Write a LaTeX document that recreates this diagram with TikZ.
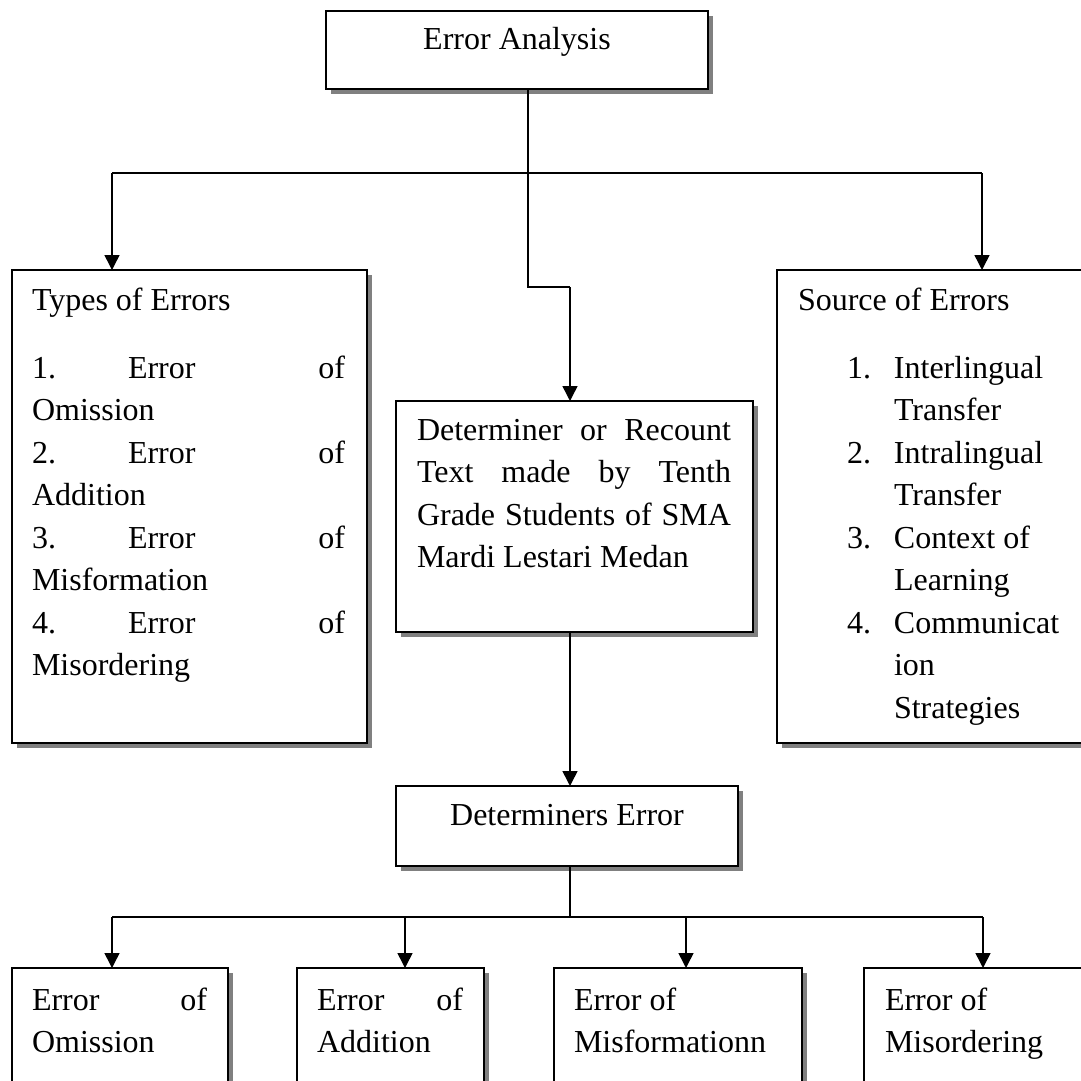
\documentclass[tikz,border=0pt]{standalone}
\usepackage{fontspec}
\setmainfont{Liberation Serif}
\usetikzlibrary{arrows.meta,shadows}
\newcommand\fst{\rule{0pt}{30pt}}
\begin{document}
\begin{tikzpicture}[x=1pt,y=-1pt,
  box/.style={draw, line width=1.6pt, fill=white, inner sep=0pt, outer sep=0pt, anchor=north west,
    drop shadow={shadow xshift=5pt, shadow yshift=-5pt, fill=gray, opacity=1}},
  txt/.style={anchor=north west, inner sep=0pt, outer sep=0pt, align=left, font=\fontsize{32}{42.5}\selectfont},
  ctxt/.style={anchor=base, inner sep=0pt, font=\fontsize{32}{42.5}\selectfont},
  conn/.style={line width=1.5pt},
  arr/.style={line width=1.5pt, -{Triangle[width=15pt,length=15pt]}}]
\useasboundingbox (0,0) rectangle (1081,1081);
\fill[white] (0,0) rectangle (1081,1081);
\clip (0,0) rectangle (1081,1081);

% boxes
\node[box, minimum width=382pt, minimum height=78pt] (ea) at (326,11) {};
\node[box, minimum width=355pt, minimum height=473pt] (types) at (12,270) {};
\node[box, minimum width=330pt, minimum height=473pt] (source) at (777,270) {};
\node[box, minimum width=357pt, minimum height=231pt] (det) at (396,401) {};
\node[box, minimum width=342pt, minimum height=80pt] (de) at (396,786) {};
\node[box, minimum width=216pt, minimum height=150pt] (b1) at (12,968) {};
\node[box, minimum width=187pt, minimum height=150pt] (b2) at (297,968) {};
\node[box, minimum width=248pt, minimum height=150pt] (b3) at (554,968) {};
\node[box, minimum width=260pt, minimum height=150pt] (b4) at (864,968) {};

% texts
\node[ctxt] (eat) at (517,50) {Error Analysis};
\node[txt] (typest) at (32,280) {\fst Types of Errors\\[25.5pt]
\makebox[313pt][l]{\makebox[96pt][l]{1.}Error\hfill of}\\
Omission\\
\makebox[313pt][l]{\makebox[96pt][l]{2.}Error\hfill of}\\
Addition\\
\makebox[313pt][l]{\makebox[96pt][l]{3.}Error\hfill of}\\
Misformation\\
\makebox[313pt][l]{\makebox[96pt][l]{4.}Error\hfill of}\\
Misordering};
\node[txt] (sourcet) at (798,280) {\fst Source of Errors\\[25.5pt]
\hspace*{49pt}\makebox[47pt][l]{1.}Interlingual\\
\hspace*{96pt}Transfer\\
\hspace*{49pt}\makebox[47pt][l]{2.}Intralingual\\
\hspace*{96pt}Transfer\\
\hspace*{49pt}\makebox[47pt][l]{3.}Context of\\
\hspace*{96pt}Learning\\
\hspace*{49pt}\makebox[47pt][l]{4.}Communicat\\
\hspace*{96pt}ion\\
\hspace*{96pt}Strategies};
\node[txt] (dett) at (417,410) {\fst\makebox[314pt][s]{Determiner or Recount}\\
\makebox[314pt][s]{Text made by Tenth}\\
\makebox[314pt][s]{Grade Students of SMA}\\
Mardi Lestari Medan};
\node[ctxt] (det2) at (567,825) {Determiners Error};
\node[txt] (b1t) at (32,980) {\fst\makebox[175pt][s]{Error of}\\Omission};
\node[txt] (b2t) at (317,980) {\fst\makebox[146pt][s]{Error of}\\Addition};
\node[txt] (b3t) at (574,980) {\fst Error of\\Misformationn};
\node[txt] (b4t) at (885,980) {\fst Error of\\Misordering};

% connector coordinates
\coordinate (hL) at (112,173);
\coordinate (hC) at (528,173);
\coordinate (hR) at (982,173);
\coordinate (k1) at (528,287);
\coordinate (k2) at (570,287);
\coordinate (m) at (570,917);
\coordinate (d1) at (112,917);
\coordinate (d2) at (405,917);
\coordinate (d3) at (686,917);
\coordinate (d4) at (983,917);

% connectors
\draw[conn] (ea.south -| hC) -- (k1) -- (k2);
\draw[arr] (k2) -- (det.north -| k2);
\draw[conn] (hL) -- (hR);
\draw[arr] (hL) -- (types.north -| hL);
\draw[arr] (hR) -- (source.north -| hR);
\draw[arr] (det.south -| k2) -- (de.north -| k2);
\draw[conn] (de.south -| m) -- (m);
\draw[conn] (d1) -- (d4);
\draw[arr] (d1) -- (b1.north -| d1);
\draw[arr] (d2) -- (b2.north -| d2);
\draw[arr] (d3) -- (b3.north -| d3);
\draw[arr] (d4) -- (b4.north -| d4);
\end{tikzpicture}
\end{document}
